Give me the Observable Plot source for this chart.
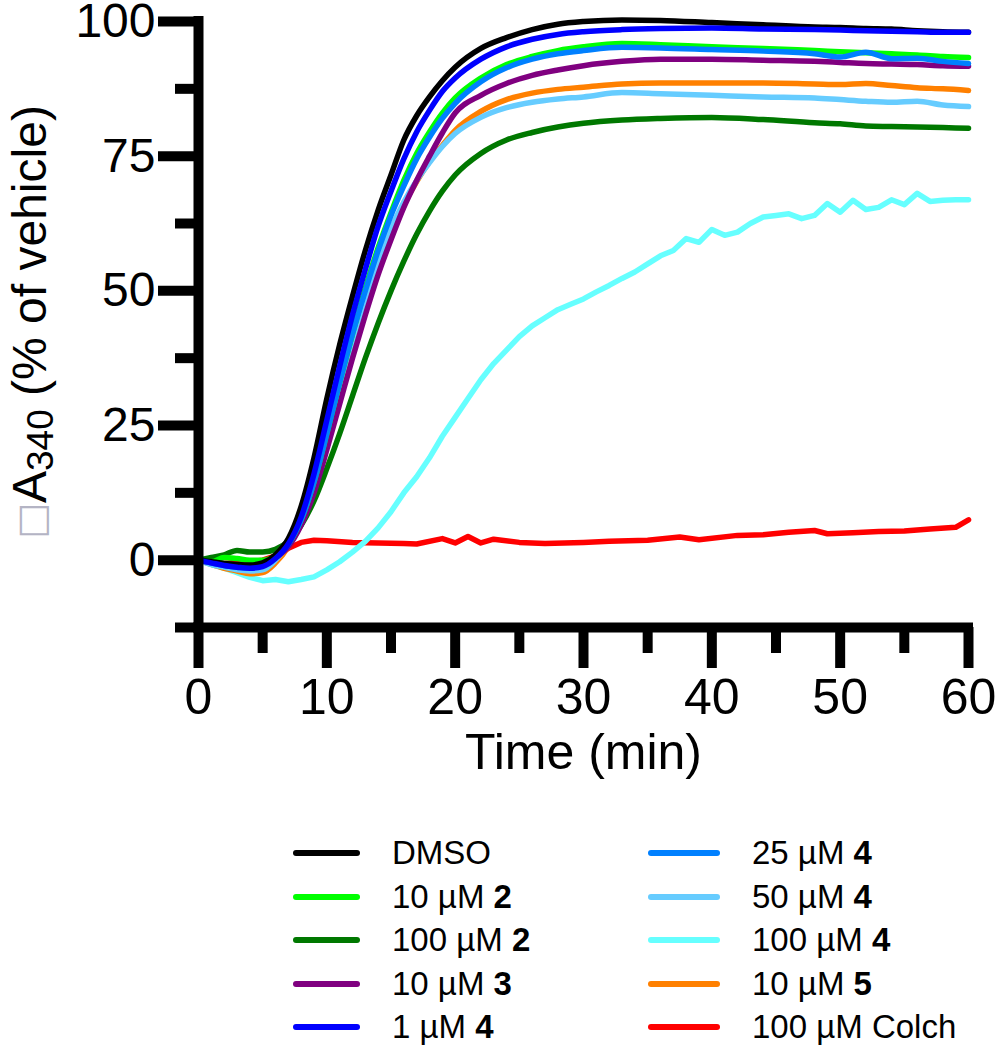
<!DOCTYPE html>
<html><head><meta charset="utf-8">
<script src="https://cdn.jsdelivr.net/npm/d3@7"></script>
<script src="https://cdn.jsdelivr.net/npm/@observablehq/plot@0.6"></script>
<style>
body{margin:0;background:#fff;}
#wrap{position:relative;width:996px;height:1050px;overflow:hidden;background:#fff;}
#chart{position:absolute;left:0;top:0;}
.legline{position:absolute;height:6px;border-radius:3px;}
.legtext{position:absolute;font-family:"Liberation Sans",Arial,sans-serif;font-size:33px;color:#000;line-height:36px;white-space:pre;}
</style></head>
<body><div id="wrap"><div id="chart"></div></div>
<script>
// ---- data ----
const seriesNames = ["DMSO","10 µM 2","100 µM 2","10 µM 3","1 µM 4","25 µM 4","50 µM 4","100 µM 4","10 µM 5","100 µM Colch"];
const legendPrefix = ["DMSO","10 µM ","100 µM ","10 µM ","1 µM ","25 µM ","50 µM ","100 µM ","10 µM ","100 µM Colch"];
const legendBold = ["","2","2","3","4","4","4","4","5",""];
const seriesColors = ["#000000","#00ff00","#007800","#800080","#0000ff","#0080ff","#66ccff","#66ffff","#ff8000","#ff0000"];
const drawOrder = ["100 µM Colch","100 µM 4","100 µM 2","10 µM 5","50 µM 4","10 µM 3","10 µM 2","25 µM 4","DMSO","1 µM 4"];

const times = [0,1,2,3,4,5,6,7,8,9,10,11,12,13,14,15,16,17,18,19,20,22,24,26,28,30,33,36,40,44,48,50,52,54,56,58,60];
const dmso    = [0,-0.3,-0.6,-0.8,-0.9,-0.5,1.0,4,10,19,30,40,49,57.5,65,71.5,78,82.5,86,89,91.5,95,97,98.5,99.5,100,100.3,100.2,99.8,99.4,99,98.9,98.7,98.6,98.3,98.1,98];
const c2_10   = [0,-0.3,0.5,0.3,0,0,0.8,3,7.5,14.5,23.5,33,42,50.5,58,64.5,70.5,75.5,79.5,83,85.8,89.5,92,93.5,94.6,95.3,95.9,95.7,95.3,95,94.6,94.4,94.2,94,93.8,93.5,93.3];
const c2_100  = [0,0.5,1,1.8,1.5,1.5,2,3.5,6.5,11,17,23.5,30.5,37.5,44,50,55.5,60.5,64.8,68.5,71.5,75.5,78,79.4,80.4,81.1,81.7,82,82.2,81.8,81.2,81,80.6,80.5,80.4,80.3,80.2];
const c3_10   = [0,-0.5,-0.8,-1,-1,-0.8,0.5,2.5,6.5,12.5,20.5,29,37.5,45.5,53,59.5,65.5,70.5,75,79.3,83,86.3,88.5,90,91,91.8,92.6,93,93,92.8,92.6,92.4,92.2,92.1,92,91.8,91.7];
const c4_1    = [0,-0.5,-1,-1.3,-1.5,-1.2,0.3,3,8,16,26,36,45.5,54,62,68.5,74.5,79.5,83.5,87,89.5,93,95.3,96.7,97.6,98.1,98.5,98.7,98.8,98.6,98.5,98.4,98.3,98.2,98.1,98,98];
const c4_25   = [0,-0.5,-1,-1.3,-1.4,-1,0.5,3,7.5,14.5,23.5,33,42,50,57.5,64,69.5,74.5,78.5,82,84.8,88.8,91.4,93,94,94.6,95.2,95.1,94.8,94.5,94,93.4,94.3,93.1,93.2,92.6,92.2];
const c4_50   = [0,-0.8,-1.3,-1.8,-2,-1.8,0,3,7.5,14,22.5,31.5,40.5,48.5,55.5,61.5,66.5,70.5,73.8,76.8,79.2,82.2,84,85,85.6,86,86.8,86.6,86.3,86,85.8,85.5,85.2,85,85.2,84.5,84.2];
const c5_10   = [0,-0.8,-1.5,-2,-2.5,-2.3,-0.5,2.5,7,13.5,22,31,40,48,55,61,66,70.3,74,77,79.8,83.3,85.5,86.7,87.4,87.8,88.4,88.6,88.6,88.6,88.4,88.3,88.5,88.1,87.7,87.5,87.2];

const cyanTimes = [0,1,2,3,4,5,6,7,8,9,10,11,12,13,14,15,16,17,18,19,20,21,22,23,24,25,26,27,28,29,30,31,32,33,34,35,36,37,38,39,40,41,42,43,44,45,46,47,48,49,50,51,52,53,54,55,56,57,58,59,60];
const c4_100  = [0,-0.8,-1.5,-2.3,-3.2,-3.8,-3.6,-4,-3.6,-3.1,-1.8,-0.3,1.5,3.5,6,9,12.5,15.5,19,23,26.5,30,33.5,36.5,39,41.5,43.5,45,46.5,47.5,48.5,49.8,51,52.3,53.5,55,56.5,57.5,59.7,59,61.4,60.3,60.9,62.5,63.7,64,64.3,63.4,64,66.2,64.6,66.8,65.1,65.5,66.9,66,68.1,66.6,66.8,66.9,66.9];

const redTimes = [0,1,2,3,4,5,6,7,8,9,10,12,14,16,17,19,20,21,22,23,25,27,30,32,35,37.5,39,42,44,46,48,49,51,53,55,57,59,60];
const colch    = [0,-0.3,-0.6,-0.4,-0.3,0,0.8,2.2,3.3,3.7,3.6,3.3,3.2,3.1,3.0,4.0,3.2,4.4,3.2,3.9,3.3,3.1,3.3,3.5,3.7,4.3,3.8,4.6,4.7,5.2,5.5,4.9,5.1,5.3,5.4,5.8,6.1,7.5];

const yMajor = [0,25,50,75,100];
const yMinor = [-12.5,12.5,37.5,62.5,87.5];
const xMajor = [0,10,20,30,40,50,60];
const xMinor = [5,15,25,35,45,55];

// ---- build table ----
const smoothSeries = {"DMSO":dmso,"10 µM 2":c2_10,"100 µM 2":c2_100,"10 µM 3":c3_10,"1 µM 4":c4_1,"25 µM 4":c4_25,"50 µM 4":c4_50,"10 µM 5":c5_10};
const rows = [];
for (const s of drawOrder) {
  if (s === "100 µM Colch") colch.forEach((v,i)=>rows.push({s, t:redTimes[i], v, kind:"j"}));
  else if (s === "100 µM 4") c4_100.forEach((v,i)=>rows.push({s, t:cyanTimes[i], v, kind:"j"}));
  else smoothSeries[s].forEach((v,i)=>rows.push({s, t:times[i], v, kind:"m"}));
}
const jag = rows.filter(d=>d.kind==="j");
const smooth = rows.filter(d=>d.kind==="m");

const FONT = "'Liberation Sans', Arial, sans-serif";
const plot = Plot.plot({
  width: 996, height: 820,
  marginLeft: 198, marginRight: 28, marginTop: 21, marginBottom: 193,
  x: {domain:[0,60], label:null},
  y: {domain:[-12.5,100], label:null},
  color: {domain: seriesNames, range: seriesColors},
  style: {fontFamily: FONT, color:"#000", background:"#fff", overflow:"visible"},
  marks: [
    Plot.line(jag, {x:"t", y:"v", z:"s", stroke:"s", strokeWidth:5.5, strokeLinejoin:"round"}),
    Plot.line(smooth, {x:"t", y:"v", z:"s", stroke:"s", strokeWidth:5.5, curve:"monotone-x"}),
    Plot.ruleX([0], {y1:-12.5, y2:100, stroke:"#000", strokeWidth:10, strokeLinecap:"square"}),
    Plot.ruleY([-12.5], {x1:0, x2:60, stroke:"#000", strokeWidth:10, strokeLinecap:"square"}),
    Plot.axisY(yMajor, {anchor:"left", tickSize:40, tickPadding:3, strokeWidth:10, fontSize:48, label:null}),
    Plot.axisY(yMinor, {anchor:"left", tickSize:23, strokeWidth:10, tickFormat:()=>"", label:null}),
    Plot.axisX(xMajor, {anchor:"bottom", tickSize:41, tickPadding:10, strokeWidth:10, fontSize:50, label:null}),
    Plot.axisX(xMinor, {anchor:"bottom", tickSize:26, strokeWidth:10, tickFormat:()=>"", label:null}),
    Plot.text(["Time (min)"], {frameAnchor:"bottom", text:d=>d, dy:141, fontSize:50})
  ]
});
document.getElementById("chart").appendChild(plot);

// y-axis title with subscript
const svg = d3.select(plot);
const yt = svg.append("text")
  .attr("transform","translate(33,322) rotate(-90)")
  .attr("text-anchor","middle").attr("dominant-baseline","middle")
  .attr("font-size",48).attr("fill","#000")
  .attr("font-family", FONT);
yt.append("tspan").attr("fill","#b4b4c4").attr("font-family","DejaVu Sans").attr("font-size",38).text("□");
yt.append("tspan").text("A");
yt.append("tspan").attr("font-size",37).attr("dy",10).text("340");
yt.append("tspan").attr("dy",-10).text(" (% of vehicle)");

// legend
const wrap = document.getElementById("wrap");
seriesNames.forEach((s,i)=>{
  const col = i < 5 ? 0 : 1, row = i % 5;
  const cy = 853 + row*43.5;
  const ln = document.createElement("div");
  ln.className = "legline";
  ln.style.left = (col ? 648 : 293) + "px";
  ln.style.width = (col ? 72 : 67) + "px";
  ln.style.top = (cy - 3) + "px";
  ln.style.background = seriesColors[i];
  wrap.appendChild(ln);
  const tx = document.createElement("div");
  tx.className = "legtext";
  tx.style.left = (col ? 752 : 392) + "px";
  tx.style.top = (cy - 18) + "px";
  tx.textContent = legendPrefix[i];
  if (legendBold[i]) { const b = document.createElement("b"); b.textContent = legendBold[i]; tx.appendChild(b); }
  wrap.appendChild(tx);
});
</script>
</body></html>
